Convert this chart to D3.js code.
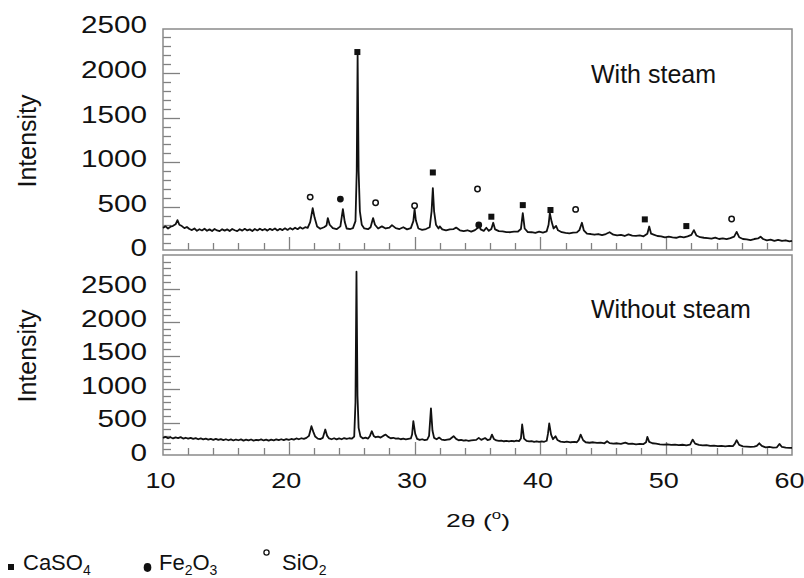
<!DOCTYPE html>
<html lang="en">
<head>
<meta charset="utf-8">
<title>XRD patterns - with and without steam</title>
<style type="text/css">
  body { margin:0; background:#fff; }
  svg { display:block; font-family:"Liberation Sans", Arial, sans-serif; }
</style>
<script src="https://cdnjs.cloudflare.com/ajax/libs/d3/7.8.5/d3.min.js"></script>
</head>
<body>
<div id="chart"></div>
<script>
// [2theta, intensity] pairs
var withSteam = [
  [10.0,265],[10.2,282],[10.4,258],[10.6,278],[10.8,288],[11.0,305],[11.15,352],[11.3,300],[11.5,285],[11.7,262],
  [11.9,275],[12.1,252],[12.3,240],[12.5,258],[12.7,232],[12.9,250],[13.1,236],[13.3,255],[13.5,232],[13.7,248],
  [13.9,230],[14.1,252],[14.3,236],[14.5,228],[14.7,250],[14.9,234],[15.1,248],[15.3,230],[15.5,252],[15.7,238],
  [15.9,228],[16.1,250],[16.3,234],[16.5,254],[16.7,236],[16.9,248],[17.1,230],[17.3,252],[17.5,236],[17.7,256],
  [17.9,238],[18.1,252],[18.3,234],[18.5,254],[18.7,240],[18.9,258],[19.1,236],[19.3,254],[19.5,240],[19.7,260],
  [19.9,242],[20.1,262],[20.3,246],[20.5,266],[20.7,250],[20.9,272],[21.1,256],[21.3,272],[21.5,265],[21.7,330],
  [21.9,485],[22.05,380],[22.25,280],[22.5,255],[22.8,272],[23.0,292],[23.1,375],[23.25,300],[23.5,262],[23.8,250],
  [24.1,282],[24.3,475],[24.45,330],[24.6,258],[24.9,252],[25.1,262],[25.3,340],[25.4,900],[25.47,2200],[25.55,900],
  [25.65,450],[25.8,300],[26.0,258],[26.3,250],[26.5,272],[26.7,375],[26.85,300],[27.1,258],[27.4,282],[27.7,258],
  [28.0,268],[28.2,296],[28.5,262],[28.8,252],[29.1,272],[29.4,248],[29.7,262],[29.9,340],[30.0,475],[30.1,350],
  [30.3,258],[30.6,242],[30.9,252],[31.2,272],[31.35,450],[31.45,710],[31.55,450],[31.7,300],[31.9,258],[32.0,282],
  [32.2,248],[32.5,238],[32.8,248],[33.1,252],[33.3,268],[33.6,238],[33.9,228],[34.2,238],[34.5,222],[34.8,240],
  [35.0,262],[35.1,310],[35.25,248],[35.5,232],[35.7,266],[35.9,232],[36.1,252],[36.25,322],[36.4,248],[36.7,228],
  [37.0,226],[37.3,218],[37.6,216],[37.9,222],[38.2,222],[38.45,252],[38.6,430],[38.75,258],[39.0,218],[39.3,216],
  [39.6,208],[39.9,222],[40.2,212],[40.5,226],[40.65,300],[40.75,430],[40.9,330],[41.05,258],[41.25,286],[41.4,238],
  [41.7,216],[42.0,208],[42.3,204],[42.6,212],[42.9,214],[43.1,240],[43.3,322],[43.45,238],[43.7,200],[44.0,196],
  [44.3,188],[44.6,196],[44.9,184],[45.2,196],[45.5,216],[45.8,188],[46.1,180],[46.4,186],[46.7,174],[47.0,192],
  [47.3,178],[47.6,176],[47.9,180],[48.2,170],[48.5,200],[48.65,280],[48.8,200],[49.0,190],[49.3,174],[49.6,170],
  [49.9,158],[50.2,166],[50.5,158],[50.8,154],[51.1,166],[51.4,158],[51.7,170],[52.0,186],[52.2,240],[52.4,180],
  [52.7,160],[53.0,154],[53.3,150],[53.6,144],[53.9,156],[54.2,140],[54.5,146],[54.8,138],[55.1,150],[55.4,166],
  [55.6,220],[55.8,160],[56.1,140],[56.4,136],[56.7,128],[57.0,140],[57.3,146],[57.5,166],[57.7,140],[58.0,124],
  [58.3,132],[58.6,118],[58.9,130],[59.2,118],[59.5,126],[59.8,114],[60.0,120]
];

var withoutSteam = [
  [10.0,270],[10.2,285],[10.4,265],[10.6,280],[10.8,262],[11.0,278],[11.2,268],[11.4,282],[11.6,260],[11.8,272],
  [12.0,258],[12.2,270],[12.4,255],[12.6,266],[12.8,250],[13.0,262],[13.2,248],[13.4,260],[13.6,245],[13.8,255],
  [14.0,242],[14.2,256],[14.4,240],[14.6,252],[14.8,238],[15.0,250],[15.2,235],[15.4,248],[15.6,232],[15.8,246],
  [16.0,235],[16.2,248],[16.4,230],[16.6,244],[16.8,232],[17.0,246],[17.2,230],[17.4,242],[17.6,235],[17.8,248],
  [18.0,232],[18.2,245],[18.4,230],[18.6,244],[18.8,234],[19.0,248],[19.2,236],[19.4,250],[19.6,238],[19.8,252],
  [20.0,240],[20.2,254],[20.4,244],[20.6,262],[20.8,250],[21.0,265],[21.2,255],[21.4,270],[21.6,300],[21.8,445],
  [21.95,360],[22.1,290],[22.3,260],[22.5,252],[22.7,270],[22.9,395],[23.05,300],[23.2,262],[23.4,250],[23.6,265],
  [23.8,248],[24.0,262],[24.2,250],[24.4,268],[24.6,255],[24.8,265],[25.0,258],[25.2,290],[25.3,800],[25.38,2750],
  [25.46,900],[25.55,420],[25.7,290],[25.9,262],[26.1,275],[26.3,260],[26.45,300],[26.6,370],[26.75,300],[26.9,280],
  [27.1,290],[27.3,275],[27.5,300],[27.7,320],[27.9,285],[28.1,265],[28.3,272],[28.5,258],[28.7,262],[28.9,250],
  [29.1,258],[29.3,248],[29.5,255],[29.7,262],[29.8,320],[29.9,520],[30.05,330],[30.2,255],[30.4,240],[30.6,250],
  [30.8,238],[31.0,245],[31.15,300],[31.3,710],[31.42,380],[31.55,270],[31.75,250],[31.95,275],[32.15,245],[32.4,238],
  [32.6,245],[32.8,250],[33.1,295],[33.3,255],[33.5,235],[33.7,240],[33.9,228],[34.1,235],[34.3,225],[34.5,232],
  [34.7,238],[34.9,240],[35.1,270],[35.3,240],[35.6,268],[35.8,238],[36.0,248],[36.15,320],[36.3,255],[36.5,232],
  [36.7,225],[36.9,230],[37.1,220],[37.3,226],[37.5,218],[37.7,225],[37.9,220],[38.1,228],[38.3,222],[38.45,260],
  [38.55,470],[38.7,260],[38.9,225],[39.1,218],[39.3,222],[39.5,212],[39.7,220],[39.9,210],[40.1,218],[40.3,212],
  [40.5,228],[40.6,330],[40.7,485],[40.85,320],[41.0,250],[41.2,295],[41.35,240],[41.6,215],[41.9,208],[42.1,215],
  [42.4,205],[42.7,210],[42.9,205],[43.05,240],[43.2,320],[43.4,235],[43.6,205],[43.9,198],[44.2,205],[44.5,195],
  [44.8,200],[45.1,190],[45.3,220],[45.5,192],[45.8,185],[46.1,190],[46.4,182],[46.75,200],[47.0,180],[47.3,185],
  [47.6,175],[47.9,182],[48.2,178],[48.4,205],[48.5,285],[48.65,210],[48.9,190],[49.2,185],[49.5,175],[49.8,170],
  [50.1,175],[50.4,165],[50.7,170],[51.0,162],[51.3,168],[51.6,160],[51.9,170],[52.1,245],[52.3,185],[52.6,165],
  [52.9,158],[53.2,162],[53.5,150],[53.8,155],[54.1,148],[54.4,152],[54.7,145],[55.0,150],[55.3,148],[55.45,180],
  [55.6,235],[55.8,165],[56.1,145],[56.4,140],[56.7,135],[57.0,140],[57.2,150],[57.4,190],[57.6,150],[57.9,130],
  [58.2,135],[58.5,125],[58.8,130],[59.0,180],[59.2,135],[59.5,125],[59.8,120],[60.0,122]
];

// phase markers on the "with steam" pattern: [2theta, intensity where the symbol sits]
var caso4Marks = [[25.45,2236],[31.45,886],[36.1,390],[38.6,520],[40.8,465],[48.3,360],[51.6,285]];
var fe2o3Marks = [[24.1,588],[35.1,297]];
var sio2Marks = [[21.7,610],[26.9,546],[30.0,513],[35.0,700],[42.8,472],[55.2,364]];

var xTicks = [10, 20, 30, 40, 50, 60];
var yTicksTop = [0, 500, 1000, 1500, 2000, 2500];
var yTicksBottom = [0, 500, 1000, 1500, 2000, 2500];
var panelLabels = ["With steam", "Without steam"];

var w = 804, h = 578;
var left = 163, right = 792;
var frameColor = "#8a8a8a";
var tickColor = "#808080";

var svg = d3.select("#chart").append("svg")
  .attr("width", w)
  .attr("height", h);

var x = d3.scaleLinear().domain([10, 60]).range([left, right]);
var yTop = d3.scaleLinear().domain([0, 2500]).range([251.5, 28.5]);
var yBot = d3.scaleLinear().domain([0, 3000]).range([456, 255]);

function drawPanel(data, y, yTicks, frameTop, frameBottom, label, labelY, showX, titleY) {
  var g = svg.append("g");

  // inward tick marks: x every 2 deg (long at 10s), y every 100 (long at 500s)
  g.append("g").selectAll("line")
    .data(d3.range(12, 60, 2))
    .enter().append("line")
    .attr("x1", function(d) { return Math.round(x(d)) + 0.5; })
    .attr("x2", function(d) { return Math.round(x(d)) + 0.5; })
    .attr("y1", frameBottom)
    .attr("y2", function(d) { return frameBottom - (d % 10 === 0 ? 13 : 7); })
    .attr("stroke", tickColor)
    .attr("stroke-width", 1.3);

  var yt = d3.range(100, y.domain()[1], 100).filter(function(v) { return y(v) > frameTop + 2; });
  g.append("g").selectAll("line")
    .data(yt)
    .enter().append("line")
    .attr("x1", left)
    .attr("x2", function(d) { return left + (d % 500 === 0 ? 17 : 8); })
    .attr("y1", function(d) { return Math.round(y(d)) + 0.5; })
    .attr("y2", function(d) { return Math.round(y(d)) + 0.5; })
    .attr("stroke", tickColor)
    .attr("stroke-width", 1.3);

  // labels through d3 axes, their own tick lines hidden
  if (showX) {
    var xAxis = g.append("g")
      .attr("transform", "translate(0," + frameBottom + ")")
      .call(d3.axisBottom(x).tickValues(xTicks).tickSize(0).tickPadding(17).tickFormat(d3.format("d")));
    xAxis.select(".domain").remove();
    xAxis.attr("font-family", null).attr("font-size", null);
    xAxis.selectAll("text")
      .attr("x", -3)
      .attr("fill", "#111")
      .style("font-size", "22px")
      .attr("textLength", function(d) { return String(d).length * 15; })
      .attr("lengthAdjust", "spacingAndGlyphs");
  }

  var yAxis = g.append("g")
    .attr("transform", "translate(" + left + ",0)")
    .call(d3.axisLeft(y).tickValues(yTicks).tickSize(0).tickPadding(16).tickFormat(d3.format("d")));
  yAxis.select(".domain").remove();
  yAxis.attr("font-family", null).attr("font-size", null);
  yAxis.selectAll("text")
    .attr("fill", "#111")
    .attr("y", -3)
    .style("font-size", "23px")
    .attr("textLength", function(d) { return String(d).length * 16.5; })
    .attr("lengthAdjust", "spacingAndGlyphs");

  // frame
  g.append("rect")
    .attr("x", left)
    .attr("y", frameTop)
    .attr("width", right - left)
    .attr("height", frameBottom - frameTop)
    .attr("fill", "none")
    .attr("stroke", frameColor)
    .attr("stroke-width", 1.5);

  var line = d3.line()
    .x(function(d) { return x(d[0]); })
    .y(function(d) { return y(d[1]); });

  g.append("path")
    .datum(data)
    .attr("d", line)
    .attr("fill", "none")
    .attr("stroke", "#111")
    .attr("stroke-width", 1.8)
    .attr("stroke-linejoin", "round");

  g.append("text")
    .attr("x", 591)
    .attr("y", labelY)
    .attr("fill", "#111")
    .style("font-size", "25px")
    .text(label);

  g.append("text")
    .attr("transform", "translate(36," + titleY + ") rotate(-90)")
    .attr("text-anchor", "middle")
    .attr("fill", "#111")
    .style("font-size", "25px")
    .text("Intensity");

  return g;
}

var topPanel = drawPanel(withSteam, yTop, yTicksTop, 29, 250, panelLabels[0], 83, false, 141);
drawPanel(withoutSteam, yBot, yTicksBottom, 255, 455, panelLabels[1], 318, true, 356);

// phase symbols
topPanel.selectAll("rect.caso4")
  .data(caso4Marks)
  .enter().append("rect")
  .attr("class", "caso4")
  .attr("x", function(d) { return x(d[0]) - 3; })
  .attr("y", function(d) { return yTop(d[1]) - 3; })
  .attr("width", 6)
  .attr("height", 6)
  .attr("fill", "#111");

topPanel.selectAll("circle.fe2o3")
  .data(fe2o3Marks)
  .enter().append("circle")
  .attr("class", "fe2o3")
  .attr("cx", function(d) { return x(d[0]); })
  .attr("cy", function(d) { return yTop(d[1]); })
  .attr("r", 3.4)
  .attr("fill", "#111");

topPanel.selectAll("circle.sio2")
  .data(sio2Marks)
  .enter().append("circle")
  .attr("class", "sio2")
  .attr("cx", function(d) { return x(d[0]); })
  .attr("cy", function(d) { return yTop(d[1]); })
  .attr("r", 2.7)
  .attr("fill", "none")
  .attr("stroke", "#111")
  .attr("stroke-width", 1.5);

// x axis title: 2θ (°)
var xTitle = svg.append("text")
  .attr("transform", "translate(478,527) scale(1.4,1)")
  .attr("text-anchor", "middle")
  .attr("fill", "#111")
  .style("font-size", "19px");
xTitle.append("tspan").text("2θ (");
xTitle.append("tspan").attr("dy", -8).style("font-size", "12px").text("o");
xTitle.append("tspan").attr("dy", 8).text(")");

// legend
var legend = svg.append("g").attr("fill", "#111").style("font-size", "22px");
legend.append("rect").attr("x", 8).attr("y", 564).attr("width", 6).attr("height", 6);
var t1 = legend.append("text").attr("x", 23).attr("y", 570);
t1.append("tspan").text("CaSO");
t1.append("tspan").attr("dy", 5).style("font-size", "14px").text("4");

legend.append("ellipse").attr("cx", 147.5).attr("cy", 567.5).attr("rx", 3.8).attr("ry", 4.4);
var t2 = legend.append("text").attr("x", 159).attr("y", 570);
t2.append("tspan").text("Fe");
t2.append("tspan").attr("dy", 5).style("font-size", "14px").text("2");
t2.append("tspan").attr("dy", -5).text("O");
t2.append("tspan").attr("dy", 5).style("font-size", "14px").text("3");

legend.append("circle").attr("cx", 266.5).attr("cy", 552.5).attr("r", 2.6)
  .attr("fill", "none").attr("stroke", "#111").attr("stroke-width", 1.3);
var t3 = legend.append("text").attr("x", 282).attr("y", 570);
t3.append("tspan").text("SiO");
t3.append("tspan").attr("dy", 5).style("font-size", "14px").text("2");
</script>
</body>
</html>
